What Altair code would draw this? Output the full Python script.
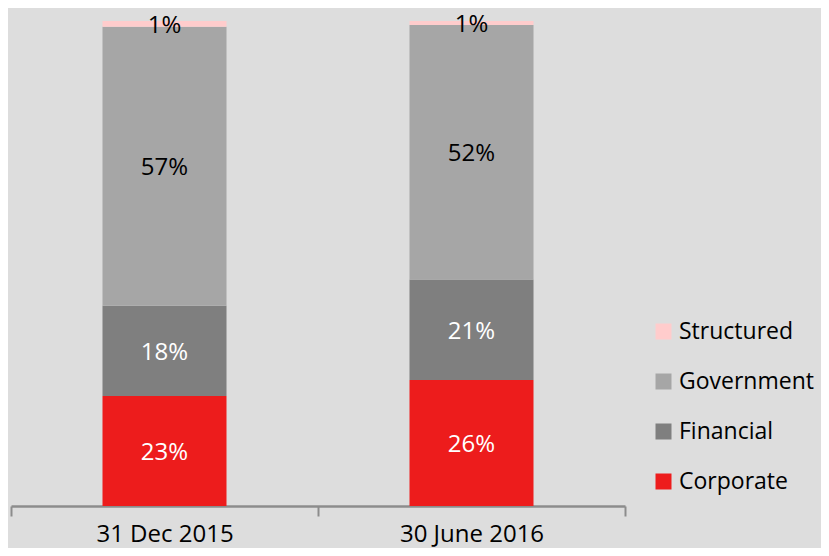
import altair as alt
import pandas as pd

dates = ["31 Dec 2015", "30 June 2016"]
segments = ["Corporate", "Financial", "Government", "Structured"]
values_2015 = [22.7, 18.6, 57.5, 1.2]
values_2016 = [26.0, 20.7, 52.5, 0.8]
labels_2015 = ["23%", "18%", "57%", "1%"]
labels_2016 = ["26%", "21%", "52%", "1%"]
legend_order = ["Structured", "Government", "Financial", "Corporate"]
legend_colors = ["#ffcccc", "#a6a6a6", "#7f7f7f", "#ed1c1c"]
text_colors = {"Corporate": "white", "Financial": "white", "Government": "black", "Structured": "black"}

rows = []
for d, vals, labs in [(dates[0], values_2015, labels_2015), (dates[1], values_2016, labels_2016)]:
    for i, (s, v, l) in enumerate(zip(segments, vals, labs)):
        rows.append({"date": d, "segment": s, "idx": i, "value": v, "label": l, "tcolor": text_colors[s]})
df = pd.DataFrame(rows)

FONT = "Open Sans"

base = alt.Chart(df).transform_stack(
    stack="value", groupby=["date"], as_=["y0", "y1"], sort=[alt.SortField("idx", order="ascending")]
).transform_calculate(mid="(datum.y0 + datum.y1) / 2")

x_enc = alt.X(
    "date:N",
    sort=dates,
    scale=alt.Scale(paddingInner=0, paddingOuter=0),
    axis=alt.Axis(
        title=None, labelAngle=0, tickBand="extent",
        domainColor="#8c8c8c", tickColor="#8c8c8c", domainWidth=2.5, tickWidth=2,
        tickSize=10, labelFontSize=24, labelColor="black", labelPadding=6,
        labelFont=FONT,
    ),
)
y_scale = alt.Scale(domain=[0, 100], nice=False, zero=True)

bars = base.mark_bar(size=124).encode(
    x=x_enc,
    y=alt.Y("y1:Q", scale=y_scale, axis=None),
    y2="y0:Q",
    color=alt.Color(
        "segment:N",
        scale=alt.Scale(domain=legend_order, range=legend_colors),
        legend=alt.Legend(
            title=None, orient="none", legendX=641, legendY=299,
            symbolType="square", symbolSize=256, symbolStrokeWidth=0,
            labelFontSize=23, labelFont=FONT, labelColor="black",
            labelOffset=4, rowPadding=26, labelLimit=300,
        ),
    ),
)

text_white = base.transform_filter("datum.tcolor == 'white'").mark_text(
    fontSize=24, font=FONT, color="white", dy=2
).encode(x=alt.X("date:N", sort=dates), y=alt.Y("mid:Q", scale=y_scale), text="label:N")

text_black = base.transform_filter("datum.tcolor == 'black'").mark_text(
    fontSize=24, font=FONT, color="black", dy=2
).encode(x=alt.X("date:N", sort=dates), y=alt.Y("mid:Q", scale=y_scale), text="label:N")

chart = alt.layer(bars, text_white, text_black).properties(
    width=614, height=485,
    autosize=alt.AutoSizeParams(type="none"),
    padding={"left": 3, "top": 13, "right": 196, "bottom": 42},
    background="#dddddd",
).configure_view(stroke=None)

chart.save("out.html", embed_options={"renderer": "svg", "actions": False})
